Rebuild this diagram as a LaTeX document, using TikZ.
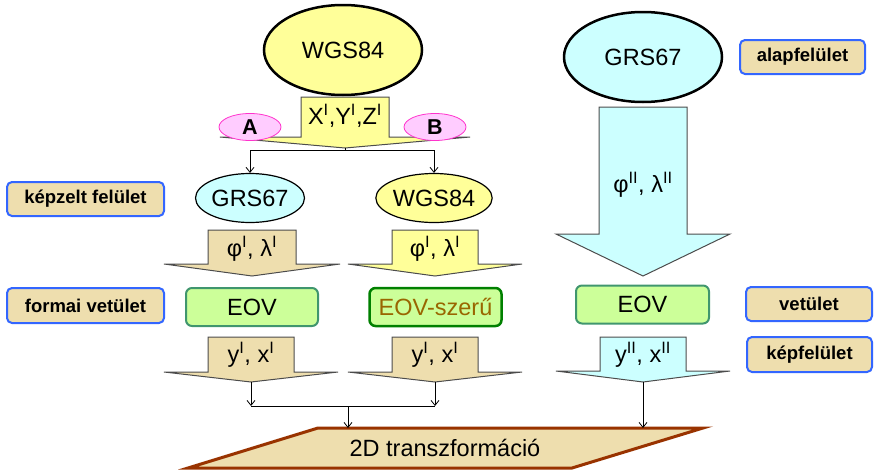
\documentclass[tikz,border=0pt]{standalone}
\usepackage{fontspec}
\setmainfont{Liberation Sans}
\usetikzlibrary{shapes.geometric,arrows.meta}
\definecolor{lightyellow}{RGB}{255,255,153}
\definecolor{lightcyan}{RGB}{204,255,255}
\definecolor{wheatbg}{RGB}{238,222,174}
\definecolor{lightgreen}{RGB}{204,255,153}
\definecolor{eovline}{RGB}{64,150,110}
\definecolor{darkgreen}{RGB}{0,128,0}
\definecolor{brownish}{RGB}{153,102,0}
\definecolor{labelblue}{RGB}{51,102,255}
\definecolor{abpink}{RGB}{255,204,255}
\definecolor{abline}{RGB}{255,51,204}
\definecolor{rust}{RGB}{153,51,0}
\def\blockarrow[#1](#2:#3:#4:#5:#6:#7){\draw[#1] ({#2-#3},#4) -- ({#2+#3},#4) -- ({#2+#3},#5) -- ({#2+#6},#5) -- (#2,#7) -- ({#2-#6},#5) -- ({#2-#3},#5) -- cycle;}

\begin{document}
\begin{tikzpicture}[x=1pt,y=-1pt,
	txt/.style={font=\fontsize{23.5}{28}\selectfont},
	ellbig/.style={ellipse,draw=black,line width=2.5pt,minimum width=158pt,minimum height=90pt,inner sep=0pt,txt},
	ellsmall/.style={ellipse,draw=black,line width=1.2pt,minimum width=102pt,minimum height=49pt,inner sep=0pt,txt},
	blockline/.style={draw=black!70,line width=1pt},
	projbox/.style={rectangle,rounded corners=6pt,fill=lightgreen,minimum width=132pt,minimum height=38pt,inner sep=0pt,txt},
	tagbox/.style={rectangle,rounded corners=5pt,draw=labelblue,line width=2pt,fill=wheatbg,minimum height=34pt,inner sep=0pt,font=\fontsize{18.5}{22}\bfseries\selectfont},
	abell/.style={ellipse,draw=abline,fill=abpink,line width=0.8pt,minimum width=62pt,minimum height=27pt,inner sep=0pt,font=\fontsize{21.5}{24}\bfseries\selectfont},
	conn/.style={line width=0.8pt,-{Straight Barb[length=5pt,width=8pt]}}]
			%%%%% START %%%%%
			\useasboundingbox (0,0) rectangle (875,474);
			
			% left side
			\node[ellbig,fill=lightyellow] (wgstop) at (343,50) {WGS84};
			\blockarrow[blockline,fill=lightyellow](345:44:97:137:125:148);
			\node[txt] (xyz) at (345,116) {X\textsuperscript{I},Y\textsuperscript{I},Z\textsuperscript{I}};
			\node[abell] (a) at (250,127) {A};
			\node[abell] (b) at (435,127) {B};
			\coordinate (xyztip) at (345,148);
			\coordinate (split) at (345,150);
			
			\node[ellsmall,fill=lightcyan] (grsmid) at (250,198) {GRS67};
			\node[ellsmall,fill=lightyellow] (wgsmid) at (434,198) {WGS84};
			\draw[line width=0.8pt] (xyztip) -- (split);
			\draw[conn] (split) -| (grsmid.north);
			\draw[conn] (split) -| (wgsmid.north);
			
			\blockarrow[blockline,fill=wheatbg](252:44:230:264:88:276);
			\node[txt] (philam) at (252,249) {φ\textsuperscript{I}, λ\textsuperscript{I}};
			\blockarrow[blockline,fill=lightyellow](435:43:230:264:87:276);
			\node[txt] (philamb) at (435,249) {φ\textsuperscript{I}, λ\textsuperscript{I}};
			
			\node[projbox,draw=eovline,line width=2pt] (eova) at (252,307) {EOV};
			\node[projbox,draw=darkgreen,line width=2.5pt,text=brownish] (eovb) at (435.5,307) {EOV-szerű};
			
			\blockarrow[blockline,fill=wheatbg](251:43:337:372:87:382);
			\node[txt] (yxa) at (251,355) {y\textsuperscript{I}, x\textsuperscript{I}};
			\blockarrow[blockline,fill=wheatbg](435:43:337:372:87:382);
			\node[txt] (yxb) at (435,355) {y\textsuperscript{I}, x\textsuperscript{I}};
			\coordinate (yxatip) at (251,382);
			\coordinate (yxbtip) at (435,382);
			
			% right side
			\node[ellbig,fill=lightcyan] (grstop) at (643,57) {GRS67};
			\blockarrow[blockline,fill=lightcyan](643:44:107:234:87:276);
			\node[txt] (philamc) at (643,185) {φ\textsuperscript{II}, λ\textsuperscript{II}};
			\node[projbox,draw=eovline,line width=2pt,minimum width=133pt] (eovc) at (642.5,304.5) {EOV};
			\blockarrow[blockline,fill=lightcyan](643:43:337:371:87:382);
			\node[txt] (yxc) at (643,355) {y\textsuperscript{II}, x\textsuperscript{II}};
			\coordinate (yxctip) at (643,382);
			
			% 2D transformation
			\draw[fill=wheatbg,draw=rust,line width=3pt] (318,428) coordinate (ptl) -- (703,428) -- (572,468) -- (188,468) -- cycle;
			\node[txt] (trans) at (445,448) {2D transzformáció};
			\coordinate (join) at (348,406);
			\draw[conn] (yxatip) -- (yxatip|-join);
			\draw[conn] (yxbtip) -- (yxbtip|-join);
			\draw[line width=0.8pt] (yxatip|-join) -- (yxbtip|-join);
			\draw[conn] (join) -- (join|-ptl);
			\draw[conn] (yxctip) -- (yxctip|-ptl);
			
			% labels
			\node[tagbox,minimum width=157pt] (kepzelt) at (85.5,199) {képzelt felület};
			\node[tagbox,minimum width=157pt,minimum height=35pt] (formai) at (85.5,305.5) {formai vetület};
			\node[tagbox,minimum width=125pt] (alap) at (802.5,57) {alapfelület};
			\node[tagbox,minimum width=126pt] (vet) at (809,304) {vetület};
			\node[tagbox,minimum width=125pt,minimum height=35pt] (kep) at (809.5,354.5) {képfelület};
			%%%%% END %%%%%
\end{tikzpicture}
\end{document}
